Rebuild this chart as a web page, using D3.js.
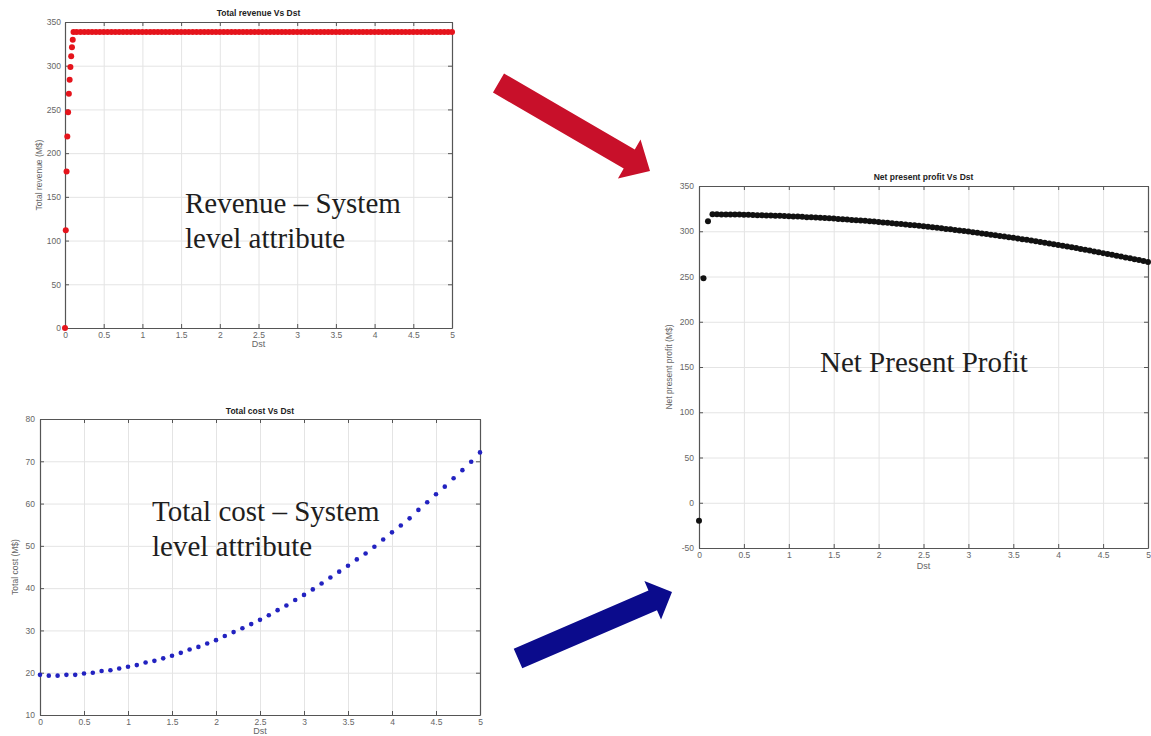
<!DOCTYPE html>
<html><head><meta charset="utf-8">
<script src="https://cdn.jsdelivr.net/npm/d3@7"></script>
<style>
html,body{margin:0;padding:0;background:#fff;}
svg{display:block;}
.tick text{font-family:"Liberation Sans",Arial,sans-serif;}
</style>
</head><body>
<script>
// ---------------- DATA ----------------
const xTickLabels = ["0","0.5","1","1.5","2","2.5","3","3.5","4","4.5","5"];
const xTickValues = [0,0.5,1,1.5,2,2.5,3,3.5,4,4.5,5];

const revenueTicks = [0,50,100,150,200,250,300,350];
const costTicks = [10,20,30,40,50,60,70,80];
const profitTicks = [-50,0,50,100,150,200,250,300,350];

// Total revenue vs Dst
const revenueDst = [0,0.01,0.02,0.03,0.04,0.05,0.06,0.07,0.08,0.09,0.1,0.11,
 0.15,0.2,0.25,0.3,0.35,0.4,0.45,0.5,0.55,0.6,0.65,0.7,0.75,0.8,0.85,0.9,0.95,
 1,1.05,1.1,1.15,1.2,1.25,1.3,1.35,1.4,1.45,1.5,1.55,1.6,1.65,1.7,1.75,1.8,1.85,1.9,1.95,
 2,2.05,2.1,2.15,2.2,2.25,2.3,2.35,2.4,2.45,2.5,2.55,2.6,2.65,2.7,2.75,2.8,2.85,2.9,2.95,
 3,3.05,3.1,3.15,3.2,3.25,3.3,3.35,3.4,3.45,3.5,3.55,3.6,3.65,3.7,3.75,3.8,3.85,3.9,3.95,
 4,4.05,4.1,4.15,4.2,4.25,4.3,4.35,4.4,4.45,4.5,4.55,4.6,4.65,4.7,4.75,4.8,4.85,4.9,4.95,5];
const revenue = [0,111.7,179,219,246.7,268,284,298.5,310.7,321,329.8,338.5,
 338.5,338.5,338.5,338.5,338.5,338.5,338.5,338.5,338.5,338.5,338.5,338.5,338.5,338.5,338.5,338.5,338.5,
 338.5,338.5,338.5,338.5,338.5,338.5,338.5,338.5,338.5,338.5,338.5,338.5,338.5,338.5,338.5,338.5,338.5,338.5,338.5,338.5,
 338.5,338.5,338.5,338.5,338.5,338.5,338.5,338.5,338.5,338.5,338.5,338.5,338.5,338.5,338.5,338.5,338.5,338.5,338.5,338.5,
 338.5,338.5,338.5,338.5,338.5,338.5,338.5,338.5,338.5,338.5,338.5,338.5,338.5,338.5,338.5,338.5,338.5,338.5,338.5,338.5,
 338.5,338.5,338.5,338.5,338.5,338.5,338.5,338.5,338.5,338.5,338.5,338.5,338.5,338.5,338.5,338.5,338.5,338.5,338.5,338.5,338.5];

// Total cost vs Dst
const costDst = [0,0.1,0.2,0.3,0.4,0.5,0.6,0.7,0.8,0.9,1,1.1,1.2,1.3,1.4,1.5,1.6,1.7,1.8,1.9,
 2,2.1,2.2,2.3,2.4,2.5,2.6,2.7,2.8,2.9,3,3.1,3.2,3.3,3.4,3.5,3.6,3.7,3.8,3.9,
 4,4.1,4.2,4.3,4.4,4.5,4.6,4.7,4.8,4.9,5];
const cost = [19.5,19.3,19.3,19.5,19.5,19.8,20.0,20.4,20.6,21.0,
 21.4,21.8,22.4,22.8,23.4,24.0,24.7,25.5,26.1,26.9,
 27.7,28.7,29.6,30.5,31.5,32.5,33.6,34.8,35.9,37.2,
 38.4,39.7,41.1,42.5,43.9,45.3,46.8,48.2,49.8,51.5,
 53.2,54.8,56.5,58.5,60.3,62.2,64.0,66.0,67.9,69.9,72.1];

// Net present profit vs Dst
const profitDst = [0,0.05,0.1,0.15,0.2,0.25,0.3,0.35,0.4,0.45,0.5,0.55,0.6,0.65,0.7,0.75,0.8,0.85,0.9,0.95,
 1,1.05,1.1,1.15,1.2,1.25,1.3,1.35,1.4,1.45,1.5,1.55,1.6,1.65,1.7,1.75,1.8,1.85,1.9,1.95,
 2,2.05,2.1,2.15,2.2,2.25,2.3,2.35,2.4,2.45,2.5,2.55,2.6,2.65,2.7,2.75,2.8,2.85,2.9,2.95,
 3,3.05,3.1,3.15,3.2,3.25,3.3,3.35,3.4,3.45,3.5,3.55,3.6,3.65,3.7,3.75,3.8,3.85,3.9,3.95,
 4,4.05,4.1,4.15,4.2,4.25,4.3,4.35,4.4,4.45,4.5,4.55,4.6,4.65,4.7,4.75,4.8,4.85,4.9,4.95,5];
const profit = [-20,248,311,318.7,318.7,318.6,318.5,318.5,318.5,318.4,
 318.2,318.1,318.0,317.8,317.6,317.5,317.4,317.2,317.0,316.8,
 316.6,316.4,316.2,315.9,315.6,315.4,315.2,314.9,314.6,314.3,
 314.0,313.6,313.3,312.9,312.5,312.2,311.9,311.5,311.1,310.7,
 310.3,309.8,309.3,308.8,308.4,307.9,307.5,307.0,306.5,306.0,
 305.5,304.9,304.4,303.8,303.2,302.6,302.1,301.4,300.8,300.2,
 299.6,298.9,298.3,297.6,296.9,296.2,295.5,294.8,294.1,293.4,
 292.7,291.9,291.2,290.5,289.8,289.0,288.2,287.4,286.5,285.6,
 284.8,284.0,283.2,282.3,281.5,280.5,279.5,278.6,277.7,276.8,
 275.8,274.9,274.0,273.0,272.0,271.0,270.1,269.1,268.1,267.0,265.9];

// ---------------- DRAW ----------------
const W = 1151, H = 736;
const svg = d3.select("body").append("svg").attr("width", W).attr("height", H);
svg.append("rect").attr("width", W).attr("height", H).attr("fill", "#fff");

const TICKFONT = 8.5;
const AXCOL = "#555";
const LBLCOL = "#666";

function panel(o) {
  const x = d3.scaleLinear().domain([0, 5]).range([o.left, o.right]);
  const y = d3.scaleLinear().domain(o.yDomain).range([o.bottom, o.top]);
  const g = svg.append("g");
  const w = o.right - o.left, h = o.bottom - o.top;

  // grid
  g.append("g").attr("transform", `translate(0,${o.bottom})`)
    .call(d3.axisBottom(x).tickValues(xTickValues).tickSize(-h).tickFormat(""))
    .call(s => { s.select(".domain").remove(); s.selectAll("line").attr("stroke", "#e4e4e4").attr("stroke-width", 1); });
  g.append("g").attr("transform", `translate(${o.left},0)`)
    .call(d3.axisLeft(y).tickValues(o.yTicks).tickSize(-w).tickFormat(""))
    .call(s => { s.select(".domain").remove(); s.selectAll("line").attr("stroke", "#e4e4e4").attr("stroke-width", 1); });

  // axes with inward ticks
  const styleAx = s => {
    s.select(".domain").attr("stroke", AXCOL).attr("stroke-width", 1.2);
    s.selectAll(".tick line").attr("stroke", AXCOL);
    s.selectAll(".tick text").attr("fill", LBLCOL).attr("font-size", TICKFONT);
  };
  g.append("g").attr("transform", `translate(0,${o.bottom})`)
    .call(d3.axisBottom(x).tickValues(xTickValues).tickFormat((d, i) => xTickLabels[i]).tickSize(-4).tickSizeOuter(0).tickPadding(4))
    .call(styleAx);
  g.append("g").attr("transform", `translate(0,${o.top})`)
    .call(d3.axisTop(x).tickValues(xTickValues).tickFormat("").tickSize(-4).tickSizeOuter(0))
    .call(styleAx);
  g.append("g").attr("transform", `translate(${o.left},0)`)
    .call(d3.axisLeft(y).tickValues(o.yTicks).tickFormat(d => String(d)).tickSize(-4).tickSizeOuter(0).tickPadding(o.yPad))
    .call(styleAx);
  g.append("g").attr("transform", `translate(${o.right},0)`)
    .call(d3.axisRight(y).tickValues(o.yTicks).tickFormat("").tickSize(-4).tickSizeOuter(0))
    .call(styleAx);

  // points
  const pts = o.xs.map((d, i) => [d, o.ys[i]]);
  g.append("g").selectAll("circle").data(pts).join("circle")
    .attr("cx", d => x(d[0])).attr("cy", d => y(d[1]))
    .attr("r", o.r).attr("fill", o.color);

  // title
  g.append("text").attr("x", (o.left + o.right) / 2).attr("y", o.titleY)
    .attr("text-anchor", "middle").attr("font-family", "Liberation Sans, Arial, sans-serif")
    .attr("font-weight", "bold").attr("font-size", 8.5).attr("fill", "#222").text(o.title);
  // x label
  g.append("text").attr("x", (o.left + o.right) / 2).attr("y", o.xLabelY)
    .attr("text-anchor", "middle").attr("font-family", "Liberation Sans, Arial, sans-serif")
    .attr("font-size", 9).attr("fill", LBLCOL).text("Dst");
  // y label
  g.append("text").attr("transform", `translate(${o.yLabelX},${(o.top + o.bottom) / 2}) rotate(-90)`)
    .attr("text-anchor", "middle").attr("dominant-baseline", "central")
    .attr("font-family", "Liberation Sans, Arial, sans-serif")
    .attr("font-size", 8.5).attr("fill", LBLCOL).text(o.yLabel);
  return {x, y};
}

panel({left: 65, right: 452, top: 22, bottom: 328, yDomain: [0, 350], yTicks: revenueTicks, yPad: 4,
  xs: revenueDst, ys: revenue, r: 3, color: "#e5141c",
  title: "Total revenue Vs Dst", titleY: 16, xLabelY: 347, yLabelX: 39, yLabel: "Total revenue (M$)"});

panel({left: 40, right: 480, top: 419, bottom: 715, yDomain: [10, 80], yTicks: costTicks, yPad: 5,
  xs: costDst, ys: cost, r: 2.3, color: "#2222c0",
  title: "Total cost Vs Dst", titleY: 414, xLabelY: 734, yLabelX: 15, yLabel: "Total cost (M$)"});

panel({left: 699, right: 1148, top: 186, bottom: 548, yDomain: [-50, 350], yTicks: profitTicks, yPad: 5,
  xs: profitDst, ys: profit, r: 3, color: "#111",
  title: "Net present profit Vs Dst", titleY: 180, xLabelY: 569, yLabelX: 669, yLabel: "Net present profit (M$)"});

// overlay captions
const serif = "Liberation Serif, Times New Roman, serif";
function caption(lines, x, y0, dy) {
  const t = svg.append("text").attr("font-family", serif).attr("font-size", 29).attr("fill", "#1e1e1e");
  lines.forEach((l, i) => t.append("tspan").attr("x", x).attr("y", y0 + i * dy).text(l));
}
caption(["Revenue \u2013 System", "level attribute"], 185, 213, 35);
caption(["Total cost \u2013 System", "level attribute"], 152, 521, 35);
caption(["Net Present Profit"], 820, 372, 0);

// arrows
function arrow(tail, tip, shaftW, headW, headL, color) {
  const dx = tip[0] - tail[0], dy = tip[1] - tail[1];
  const L = Math.hypot(dx, dy), ux = dx / L, uy = dy / L, nx = -uy, ny = ux;
  const bx = tip[0] - ux * headL, by = tip[1] - uy * headL;
  const p = [
    [tail[0] + nx * shaftW / 2, tail[1] + ny * shaftW / 2],
    [bx + nx * shaftW / 2, by + ny * shaftW / 2],
    [bx + nx * headW / 2, by + ny * headW / 2],
    tip,
    [bx - nx * headW / 2, by - ny * headW / 2],
    [bx - nx * shaftW / 2, by - ny * shaftW / 2],
    [tail[0] - nx * shaftW / 2, tail[1] - ny * shaftW / 2]
  ];
  svg.append("path").attr("d", d3.line()(p) + "Z").attr("fill", color);
}
arrow([498.5, 83], [650, 171], 22, 45, 24, "#c8102a");
arrow([518, 658.5], [672, 592], 21.5, 42, 21, "#0b0b8c");
</script>
</body></html>
